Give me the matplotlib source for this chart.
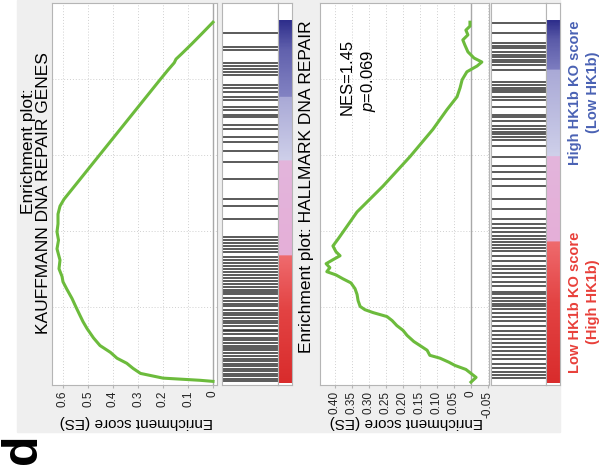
import numpy as np
import matplotlib
matplotlib.use("Agg")
import matplotlib.pyplot as plt
from matplotlib.patches import Rectangle
from matplotlib.colors import LinearSegmentedColormap

plt.rcParams['font.family'] = ['Liberation Sans', 'DejaVu Sans']
plt.rcParams['mathtext.fontset'] = 'custom'
plt.rcParams['mathtext.rm'] = 'Liberation Sans'
plt.rcParams['mathtext.it'] = 'Liberation Sans:italic'

# ---------------- data ----------------
# rank position as percent of the ranked gene list (0 = top of list, high HK1b side)
title1 = ["Enrichment plot:", "KAUFFMANN DNA REPAIR GENES"]
title2 = "Enrichment plot: HALLMARK DNA REPAIR"
ylabel = "Enrichment score (ES)"

es_ticks1 = [0.6, 0.5, 0.4, 0.3, 0.2, 0.1, 0.0]
es_ticklabels1 = ["0.6", "0.5", "0.4", "0.3", "0.2", "0.1", "0"]
es_ticks2 = [0.40, 0.35, 0.30, 0.25, 0.20, 0.15, 0.10, 0.05, 0.0, -0.05]
es_ticklabels2 = ["0.40", "0.35", "0.30", "0.25", "0.20", "0.15", "0.10", "0.05", "0", "-0.05"]
rank_grid = [0, 21, 42, 63, 84]

rank1 = [0.5, 0.8, 1.4, 2.7, 4.1, 5.5, 6.9, 8.5, 10.4, 12.5, 15.1, 17.0, 18.7, 21.0,
         23.4, 26.0, 28.0, 29.5, 31.6, 34.0, 37.1, 39.5, 41.8, 44.0, 46.7, 48.9, 50.8,
         56.3, 61.8, 67.3, 72.8, 78.3, 83.8, 86.5, 88.5, 89.5, 91.0, 93.7, 96.5, 99.7]
es1 = [0.0, 0.052, 0.20, 0.29, 0.32, 0.345, 0.384, 0.41, 0.452, 0.478, 0.504, 0.52, 0.532, 0.548,
       0.564, 0.585, 0.600, 0.604, 0.616, 0.612, 0.624, 0.618, 0.624, 0.620, 0.620, 0.612, 0.596,
       0.532, 0.468, 0.404, 0.340, 0.276, 0.212, 0.180, 0.155, 0.148, 0.125, 0.085, 0.045, 0.0]

rank2 = [0.3, 1.6, 2.7, 3.8, 4.9, 5.8, 6.9, 7.7, 9.1, 10.4, 11.5, 13.2, 14.6, 15.9, 17.3,
         18.4, 19.5, 20.3, 21.2, 22.8, 24.5, 26.1, 27.7, 28.8, 29.9, 30.8, 31.9, 33.0, 34.1,
         35.2, 36.3, 37.9, 39.8, 41.8, 47.3, 54.4, 62.6, 70.1, 75.5, 79.1, 81.6, 83.8, 86.0,
         87.6, 88.7, 89.8, 91.5, 93.4, 94.8, 96.2, 97.5, 98.6, 99.7]
es2 = [0.0, -0.015, 0.0, 0.015, 0.047, 0.065, 0.091, 0.121, 0.129, 0.150, 0.168, 0.188, 0.200,
       0.218, 0.232, 0.247, 0.288, 0.312, 0.326, 0.332, 0.335, 0.341, 0.353, 0.376, 0.397,
       0.424, 0.415, 0.426, 0.406, 0.385, 0.397, 0.406, 0.391, 0.376, 0.335, 0.259, 0.179,
       0.112, 0.071, 0.041, 0.032, 0.026, 0.012, -0.018, -0.032, -0.009, 0.009, 0.018, 0.024,
       0.009, 0.015, 0.003, 0.003]

hits1 = [0.5, 1.1, 1.9, 2.5, 3.3, 3.8, 4.7, 5.2, 6.0, 6.6, 7.4, 8.2, 9.1, 9.6, 10.4, 11.0,
         11.8, 12.6, 13.5, 14.3, 14.8, 15.7, 16.5, 17.3, 17.9, 18.7, 19.5, 20.3, 21.2, 22.0,
         22.8, 23.6, 24.5, 25.3, 25.8, 26.6, 27.5, 28.3, 29.1, 29.9, 30.8, 31.6, 32.4, 33.2,
         34.1, 34.9, 36.3, 37.1, 37.9, 38.7, 39.6, 40.4, 45.3, 48.9, 50.8, 56.3, 61.0, 64.0,
         66.5, 68.1, 70.1, 71.4, 73.4, 74.2, 75.5, 76.4, 78.3, 79.1, 80.5, 81.6, 82.4, 85.2,
         86.0, 86.8, 87.6, 88.5, 92.0, 92.9, 96.7]
hits2 = [1.4, 2.2, 3.0, 4.1, 5.2, 6.6, 7.7, 8.8, 9.9, 11.0, 12.1, 13.2, 14.3, 15.9, 17.3,
         18.4, 19.5, 20.6, 21.4, 22.0, 22.8, 23.6, 24.5, 25.3, 26.9, 28.0, 29.4, 30.5, 31.6,
         32.4, 33.8, 35.2, 36.5, 37.4, 38.2, 39.0, 39.8, 40.7, 41.8, 42.9, 44.0, 45.3, 48.1,
         50.8, 54.4, 56.3, 58.2, 59.9, 62.6, 65.4, 67.3, 67.9, 68.7, 69.5, 70.1, 70.9, 72.3,
         73.4, 74.2, 76.4, 78.3, 79.1, 80.5, 81.0, 81.6, 82.4, 83.2, 86.5, 87.9, 88.7, 89.3,
         90.1, 90.7, 91.5, 92.6, 93.1, 94.0, 96.7, 99.5]

# ranked-list metric colour bar stops: (rank %, colour)
cbar1 = [(0, '#d92c2c'), (20, '#e34343'), (35.0, '#ef6b6e'), (35.1, '#e5afd8'), (61.2, '#e3b5dc'),
         (61.3, '#cfd0ea'), (78.9, '#a9a9d6'), (79.0, '#8383c3'), (92, '#6161ad'), (100, '#2f2f8c')]
cbar2 = [(0, '#d92c2c'), (22, '#e34343'), (39.0, '#ef6b6e'), (39.1, '#e5afd8'), (62.5, '#e3b5dc'),
         (62.6, '#cfd0ea'), (86.4, '#a9a9d6'), (86.5, '#7d7dc0'), (95, '#5a5aa8'), (100, '#2f2f8c')]

nes_text = "NES=1.45"
p_text = r"$\it{p}$=0.069"
legend_low = ["Low HK1b KO score", "(High HK1b)"]
legend_high = ["High HK1b KO score", "(Low HK1b)"]

# ---------------- figure ----------------
W, H = 606, 471
fig = plt.figure(figsize=(W / 100, H / 100), dpi=100)
fig.patch.set_facecolor('white')
fig.add_artist(Rectangle((17 / W, 1 - 432 / H), (560 - 17) / W, 432 / H,
                         transform=fig.transFigure, color='#efefef', zorder=0))

def ax_px(x0, x1, y0, y1):
    return fig.add_axes([x0 / W, 1 - y1 / H, (x1 - x0) / W, (y1 - y0) / H])

GREEN = '#6cbb3c'
SPINE = '#b5b5b5'
YLIM = (-0.5, 105)


def make_cmap(stops):
    pos = [s[0] / 100 for s in stops]
    cols = [s[1] for s in stops]
    return LinearSegmentedColormap.from_list('m', list(zip(pos, cols)))


def panel(xes, xhit, xcb, es_lim, ticks, ticklabels, rank, es, hits, cstops):
    ax = ax_px(xes[0], xes[1], 3, 385)
    ax.set_facecolor('white')
    ax.set_xlim(*es_lim)
    ax.set_ylim(*YLIM)
    for t in ticks:
        ax.axvline(t, color='#d0d0d0', lw=0.7, ls=(0, (1, 2)), zorder=1)
    for r in rank_grid[1:]:
        ax.axhline(r, color='#d0d0d0', lw=0.7, ls=(0, (1, 2)), zorder=1)
    ax.axvline(0, color='#a8a8a8', lw=1.0, zorder=2)
    ax.plot(es, rank, color=GREEN, lw=2.2, zorder=3)
    ax.set_xticks(ticks)
    ax.set_xticklabels(ticklabels, fontsize=8.5, color='#222222')
    ax.tick_params(axis='x', labelrotation=90, length=2, pad=2, color=SPINE)
    ax.set_yticks([])
    for s in ax.spines.values():
        s.set_color(SPINE)
        s.set_linewidth(0.8)

    axh = ax_px(xhit[0], xhit[1], 3, 385)
    axh.set_facecolor('white')
    axh.set_xlim(0, 1)
    axh.set_ylim(*YLIM)
    axh.hlines(hits, 0, 1, color='#2e2e2e', lw=1.1)
    axh.set_xticks([])
    axh.set_yticks([])
    for s in axh.spines.values():
        s.set_color(SPINE)
        s.set_linewidth(0.8)

    axc = ax_px(xcb[0], xcb[1], 3, 385)
    axc.set_facecolor('white')
    axc.imshow(np.linspace(0, 100, 600)[:, None], aspect='auto', cmap=make_cmap(cstops),
               vmin=0, vmax=100, extent=(0, 1, 0, 100), origin='lower')
    axc.set_xlim(0, 1)
    axc.set_ylim(*YLIM)
    axc.set_xticks([])
    axc.set_yticks([])
    for s in axc.spines.values():
        s.set_color(SPINE)
        s.set_linewidth(0.8)
    return ax


panel((52, 217), (222, 278), (278, 292), (0.644, -0.016), es_ticks1, es_ticklabels1,
      rank1, es1, hits1, cbar1)
panel((320, 489), (491, 546), (546, 560), (0.444, -0.053), es_ticks2, es_ticklabels2,
      rank2, es2, hits2, cbar2)

def ftext(x, y, s, **kw):
    fig.text(x / W, 1 - y / H, s, **kw)

# titles
ftext(28, 151, title1[0], rotation=90, ha='center', va='center', fontsize=12.5)
ftext(44, 193, title1[1], rotation=90, ha='center', va='center', fontsize=12.5)
ftext(307, 187, title2, rotation=90, ha='center', va='center', fontsize=12.5)

# y labels (upside down)
ftext(136, 422, ylabel, rotation=180, ha='center', va='center', fontsize=11)
ftext(406, 422, ylabel, rotation=180, ha='center', va='center', fontsize=11)

# NES / p
ftext(347, 77, nes_text, rotation=90, ha='center', va='center', fontsize=12)
ftext(368, 81, p_text, rotation=90, ha='center', va='center', fontsize=12)

# legend labels
RED = '#e8403a'
BLUE = '#4a62b4'
ftext(575, 302, legend_low[0], rotation=90, ha='center', va='center', fontsize=10.5,
      color=RED, fontweight='bold')
ftext(593, 302, legend_low[1], rotation=90, ha='center', va='center', fontsize=10.5,
      color=RED, fontweight='bold')
ftext(575, 93, legend_high[0], rotation=90, ha='center', va='center', fontsize=10.5,
      color=BLUE, fontweight='bold')
ftext(593, 92, legend_high[1], rotation=90, ha='center', va='center', fontsize=10.5,
      color=BLUE, fontweight='bold')

# panel letter
ftext(23, 449, "d", rotation=90, ha='center', va='center', fontsize=36, fontweight='bold')

fig.savefig("out.png", dpi=100)
